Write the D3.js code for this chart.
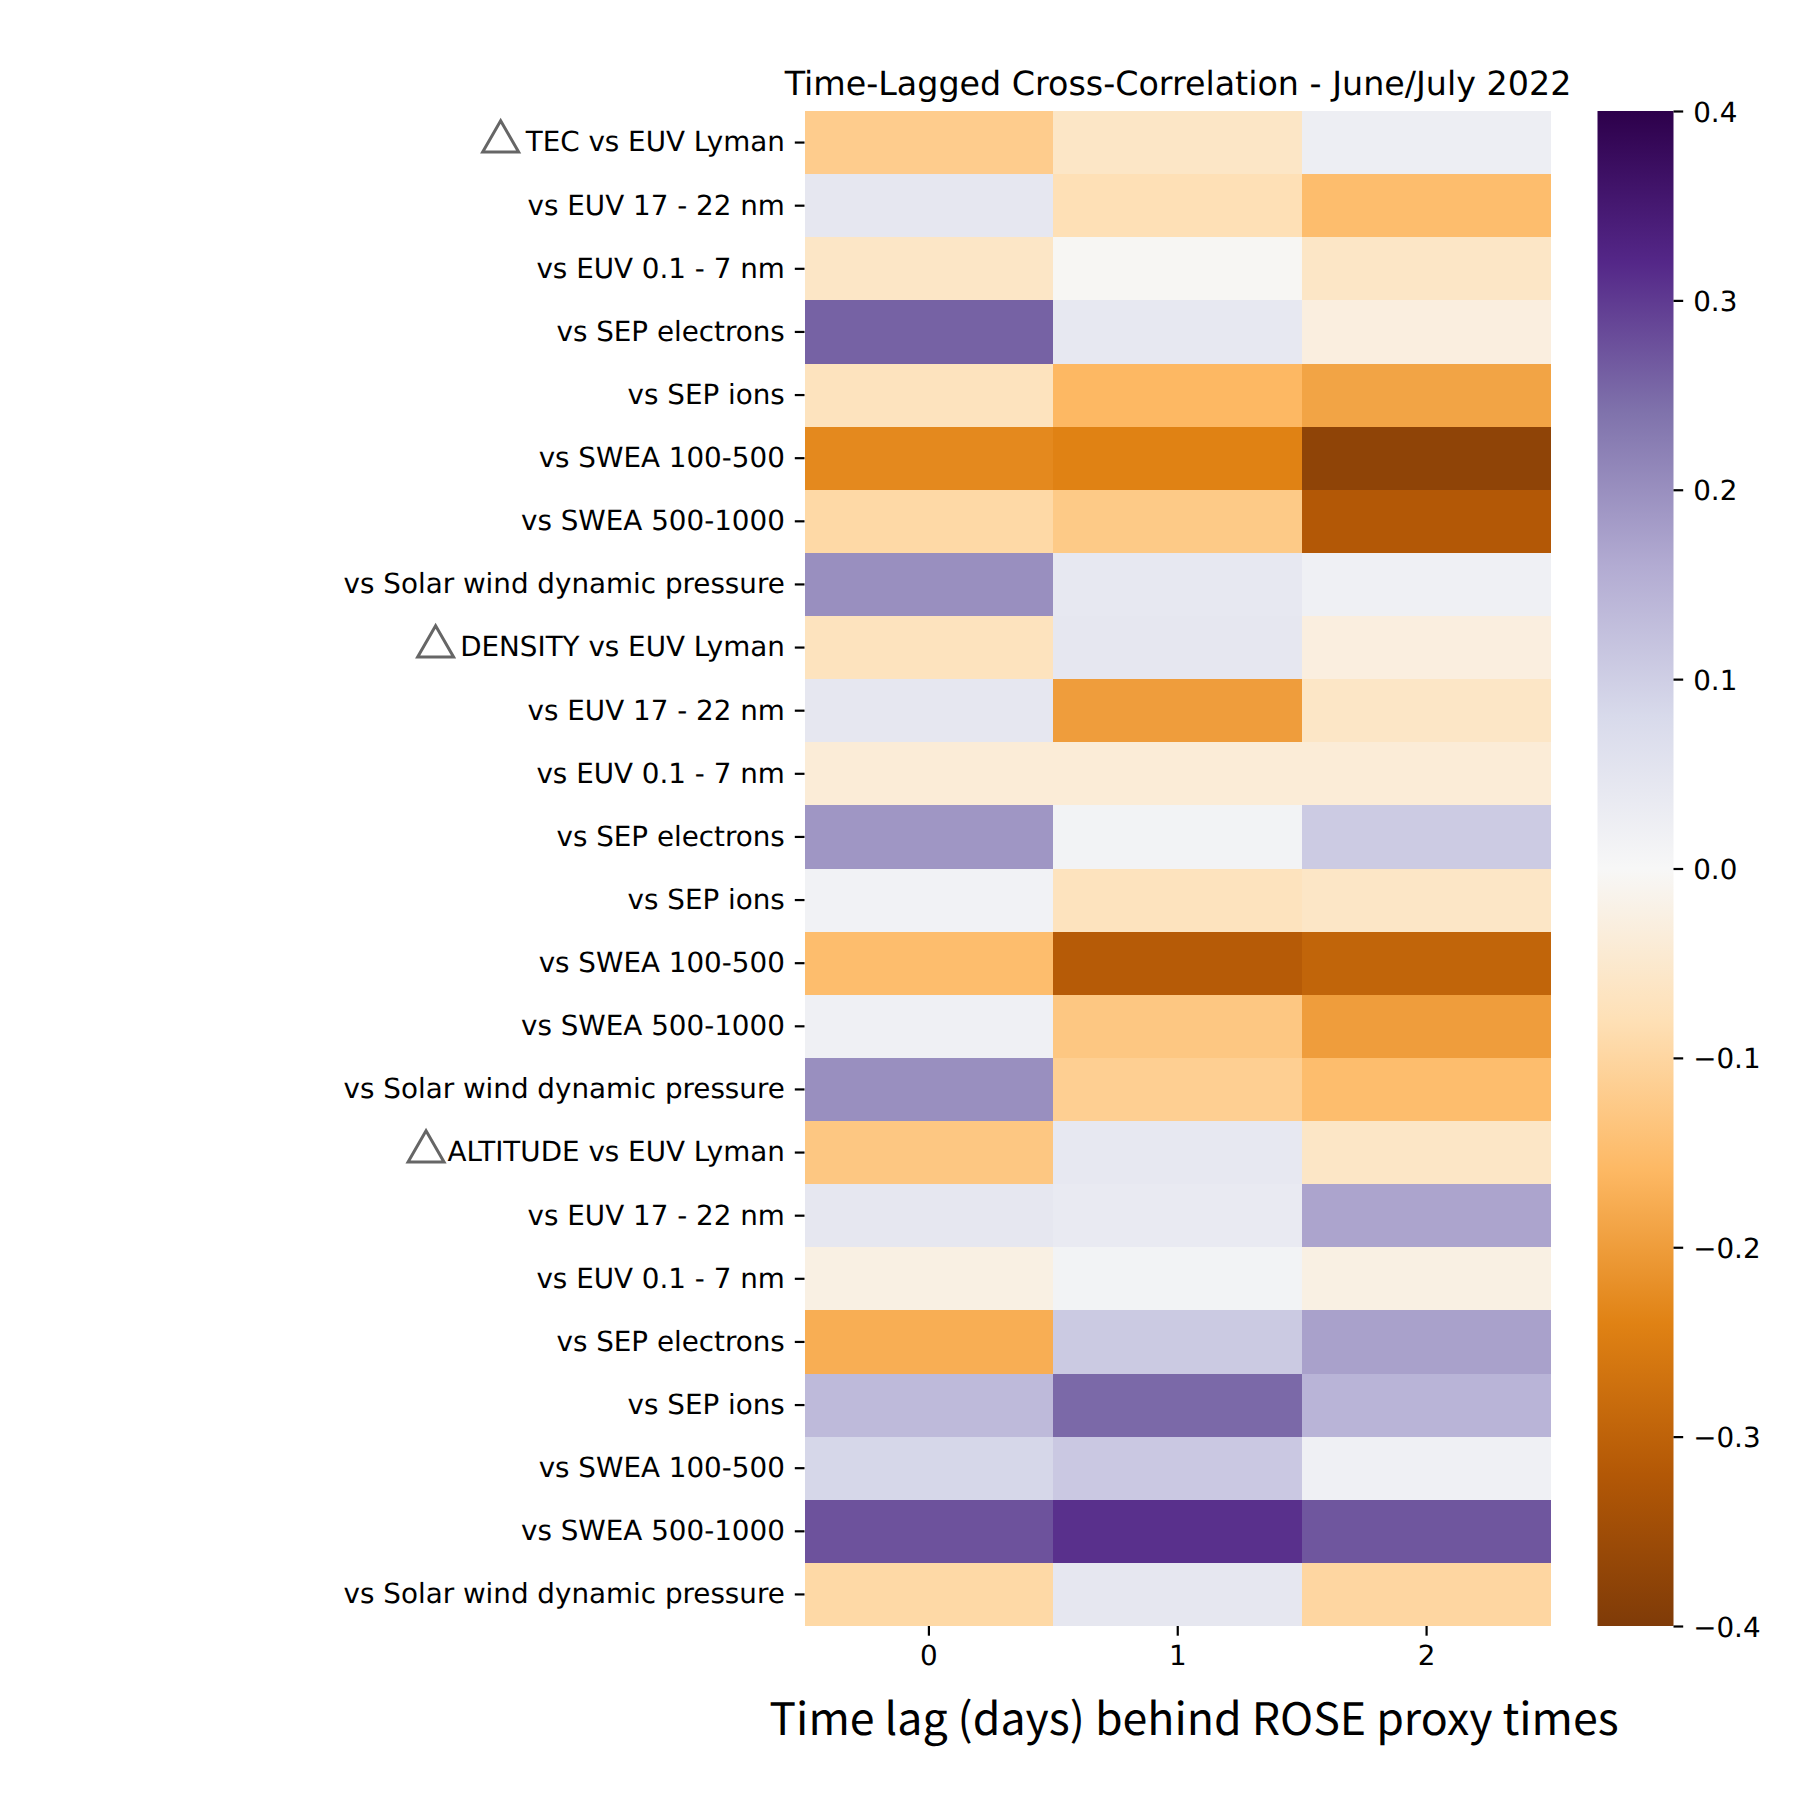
<!DOCTYPE html>
<html><head><meta charset="utf-8">
<script src="https://cdn.jsdelivr.net/npm/d3@7"></script>
<style>html,body{margin:0;padding:0;background:#fff}svg{display:block}text{font-family:"DejaVu Sans";fill:#000;text-rendering:geometricPrecision}</style>
</head><body><svg id="c" width="1800" height="1800"></svg>
<script>
const rowLabels=["TEC vs EUV Lyman","vs EUV 17 - 22 nm","vs EUV 0.1 - 7 nm","vs SEP electrons","vs SEP ions","vs SWEA 100-500","vs SWEA 500-1000","vs Solar wind dynamic pressure","DENSITY vs EUV Lyman","vs EUV 17 - 22 nm","vs EUV 0.1 - 7 nm","vs SEP electrons","vs SEP ions","vs SWEA 100-500","vs SWEA 500-1000","vs Solar wind dynamic pressure","ALTITUDE vs EUV Lyman","vs EUV 17 - 22 nm","vs EUV 0.1 - 7 nm","vs SEP electrons","vs SEP ions","vs SWEA 100-500","vs SWEA 500-1000","vs Solar wind dynamic pressure"];
const lags=[0,1,2];
const lag0=[-0.12,0.045,-0.06,0.258,-0.07,-0.23,-0.095,0.2,-0.07,0.045,-0.04,0.19,0.015,-0.15,0.02,0.2,-0.13,0.045,-0.025,-0.175,0.135,0.085,0.275,-0.095];
const lag1=[-0.06,-0.08,-0.005,0.042,-0.16,-0.24,-0.125,0.042,0.045,-0.2,-0.04,0.012,-0.07,-0.315,-0.13,-0.115,0.042,0.035,0.012,0.108,0.25,0.11,0.31,0.045];
const lag2=[0.025,-0.15,-0.06,-0.03,-0.19,-0.375,-0.32,0.02,-0.03,-0.06,-0.04,0.105,-0.06,-0.295,-0.2,-0.15,-0.06,0.17,-0.025,0.175,0.145,0.02,0.27,-0.1];
const lagValues=[lag0,lag1,lag2];
const cbarTicks=[-0.4,-0.3,-0.2,-0.1,0,0.1,0.2,0.3,0.4];
const triangleRows=[0,8,16];
const triangleGaps=[24,24.5,21.5];
const cmapColors=["#7f3b08","#b35806","#e08214","#fdb863","#fee0b6","#f7f7f7","#d8daeb","#b2abd2","#8073ac","#542788","#2d004b"];
const titleText="Time-Lagged Cross-Correlation - June/July 2022";
const xLabelText="Time lag (days) behind ROSE proxy times";

const svg=d3.select("#c");
const L=804.5,R=1551,T=111,B=1626,CL=1597.5,CR=1673.5;
const FS=27.78,TL=9.7,TW=2.2,PAD=10;
const x=d3.scaleBand().domain(lags).range([L,R]);
const y=d3.scaleBand().domain(d3.range(rowLabels.length)).range([T,B]);
const color=d3.scaleLinear().domain(d3.range(11).map(i=>-0.4+0.08*i)).range(cmapColors).clamp(true);

const cells=[];lags.forEach((l,j)=>rowLabels.forEach((r,i)=>cells.push({l,i,v:lagValues[j][i]})));
svg.append("g").selectAll("rect").data(cells).join("rect")
  .attr("x",d=>x(d.l)).attr("y",d=>y(d.i)).attr("width",x.bandwidth()).attr("height",y.bandwidth())
  .attr("fill",d=>color(d.v)).attr("shape-rendering","crispEdges");

const yAxis=svg.append("g").attr("transform",`translate(${L},0)`)
  .call(d3.axisLeft(y).tickFormat(i=>rowLabels[i]).tickSize(TL).tickPadding(PAD));
yAxis.select(".domain").remove();
yAxis.selectAll("line").attr("stroke","#000").attr("stroke-width",TW);
yAxis.selectAll("text").attr("font-size",FS).attr("font-family","DejaVu Sans");

const xAxis=svg.append("g").attr("transform",`translate(0,${B})`)
  .call(d3.axisBottom(x).tickSize(TL).tickPadding(PAD));
xAxis.select(".domain").remove();
xAxis.selectAll("line").attr("stroke","#000").attr("stroke-width",TW);
xAxis.selectAll("text").attr("font-size",FS).attr("font-family","DejaVu Sans");

const tri=d3.symbol().type(d3.symbolTriangle).size(560);
yAxis.selectAll(".tick").filter(i=>triangleRows.includes(i)).each(function(i){
  const t=d3.select(this),b=t.select("text").node().getBBox();
  t.append("path").attr("d",tri()).attr("transform",`translate(${b.x-triangleGaps[triangleRows.indexOf(i)]},-1)`)
   .attr("fill","none").attr("stroke","#666").attr("stroke-width",3);
});

svg.append("text").attr("x",1178).attr("y",95).attr("text-anchor","middle").attr("font-size",33.33).text(titleText);
svg.append("text").attr("x",1194).attr("y",1735).attr("text-anchor","middle").attr("font-size",44.7).style("font-family","Noto Sans CJK JP").text(xLabelText);

const cy=d3.scaleLinear().domain([-0.4,0.4]).range([B,T]);
const g=svg.append("defs").append("linearGradient").attr("id","cb").attr("x1",0).attr("x2",0).attr("y1",1).attr("y2",0);
cmapColors.forEach((c,i)=>g.append("stop").attr("offset",i/10).attr("stop-color",c));
svg.append("rect").attr("x",CL).attr("y",T).attr("width",CR-CL).attr("height",B-T).attr("fill","url(#cb)");
const cAxis=svg.append("g").attr("transform",`translate(${CR},0)`)
  .call(d3.axisRight(cy).tickValues(cbarTicks).tickSize(TL).tickPadding(PAD).tickFormat(d=>(d<0?"\u2212":"")+Math.abs(d).toFixed(1)));
cAxis.select(".domain").remove();
cAxis.selectAll("line").attr("stroke","#000").attr("stroke-width",TW);
cAxis.selectAll("text").attr("font-size",FS).attr("font-family","DejaVu Sans").attr("dy","0.36em");
</script></body></html>
